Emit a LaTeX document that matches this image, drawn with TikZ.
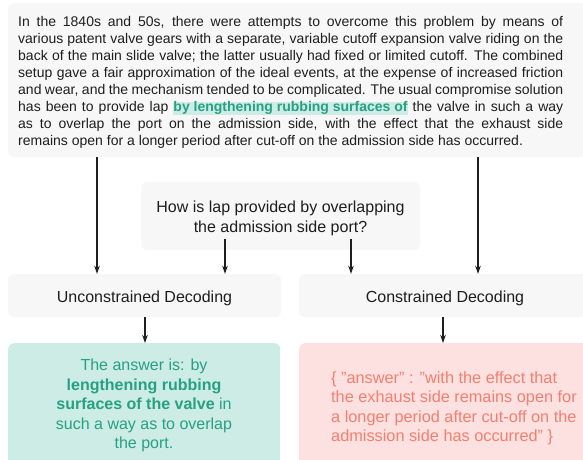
\documentclass[tikz,border=0pt]{standalone}
\usepackage{fontspec}
\setmainfont{Liberation Sans}
\usetikzlibrary{arrows.meta}
\definecolor{boxgray}{HTML}{F7F7F7}
\definecolor{tealbg}{HTML}{CCECE5}
\definecolor{tealtx}{HTML}{27A083}
\definecolor{pinkbg}{HTML}{FDE0E0}
\definecolor{salmon}{HTML}{F3806F}
\definecolor{inkc}{HTML}{1E1E1E}
\newcommand\hlmark[1]{\leavevmode\setbox0\hbox{#1}\rlap{\color{tealbg}\rule[-4pt]{\wd0}{13.5pt}}\box0\relax}
\begin{document}
\begin{tikzpicture}[x=1pt,y=-1pt,
  gbox/.style={fill=boxgray, rounded corners=6pt, draw=none, inner sep=0pt},
  txt/.style={inner sep=0pt, text=inkc},
  arr/.style={-{Stealth[length=8pt,width=5.5pt]}, line width=1.2pt, draw=inkc}]
\useasboundingbox (0,0) rectangle (583,459);
\fill[white] (0,0) rectangle (583,459);
% boxes
\node[gbox, anchor=north west, minimum width=590pt, minimum height=154pt] (ctx) at (8,3) {};
\node[gbox, minimum width=279pt, minimum height=68pt] (q) at (280.5,216) {};
\node[gbox, minimum width=273pt, minimum height=43pt] (uc) at (144.5,295.5) {};
\node[gbox, minimum width=292pt, minimum height=43pt] (cd) at (445,295.5) {};
\node[fill=tealbg, rounded corners=6pt, inner sep=0pt, minimum width=272pt, minimum height=140pt, anchor=north west] (ua) at (8,343) {};
\node[fill=pinkbg, rounded corners=6pt, inner sep=0pt, minimum width=292pt, minimum height=140pt, anchor=north west] (ca) at (299,343) {};
% texts
\node[txt, anchor=north west, text width=545pt, align=justify, font=\fontsize{14}{17}\selectfont] (ctxt) at (18,16) {In the 1840s and 50s, there were attempts to overcome this problem by means of\linebreak
various patent valve gears with a separate, variable cutoff expansion valve riding on the\linebreak
back of the main slide valve; the latter usually had fixed or limited cutoff. The combined\linebreak
setup gave a fair approximation of the ideal events, at the expense of increased friction\linebreak
and wear, and the mechanism tended to be complicated. The usual compromise solution\linebreak
has been to provide lap \hlmark{\textcolor{tealtx}{\bfseries by lengthening rubbing surfaces of}} the valve in such a way\linebreak
as to overlap the port on the admission side, with the effect that the exhaust side\linebreak
remains open for a longer period after cut-off on the admission side has occurred.};
\node[txt, anchor=north, align=center, font=\fontsize{16}{20}\selectfont] (qt) at (q.north |- 0,201) {How is lap provided by overlapping\\the admission side port?};
\node[txt, anchor=base, font=\fontsize{16}{20}\selectfont] (uct) at ([yshift=-6.5pt]uc.center) {Unconstrained Decoding};
\node[txt, anchor=base, font=\fontsize{16}{20}\selectfont] (cdt) at ([yshift=-6.5pt]cd.center) {Constrained Decoding};
\node[txt, anchor=north, align=center, text=tealtx, font=\fontsize{16}{19.5}\selectfont] (uat) at (144,359) {The answer is: by\\\textbf{lengthening rubbing}\\\textbf{surfaces of the valve} in\\such a way as to overlap\\the port.};
\node[txt, anchor=north west, align=left, text=salmon, font=\fontsize{16.3}{19.5}\selectfont] (cat) at (331,371) {\{ "answer" : "with the effect that\\the exhaust side remains open for\\a longer period after cut-off on the\\admission side has occurred" \}};
% arrow x positions
\coordinate (xa) at (97,0);
\coordinate (xb) at (225,0);
\coordinate (xc) at (351,0);
\coordinate (xd) at (478,0);
\coordinate (xe) at (145,0);
\coordinate (xf) at (443,0);
\coordinate (qlow) at ([yshift=11pt]q.south);
% arrows
\draw[arr] (ctx.south -| xa) -- (uc.north -| xa);
\draw[arr] (ctx.south -| xd) -- (cd.north -| xd);
\draw[arr] (qlow -| xb) -- (uc.north -| xb);
\draw[arr] (qlow -| xc) -- (cd.north -| xc);
\draw[arr] (uc.south -| xe) -- (ua.north -| xe);
\draw[arr] (cd.south -| xf) -- (ca.north -| xf);
\end{tikzpicture}
\end{document}
